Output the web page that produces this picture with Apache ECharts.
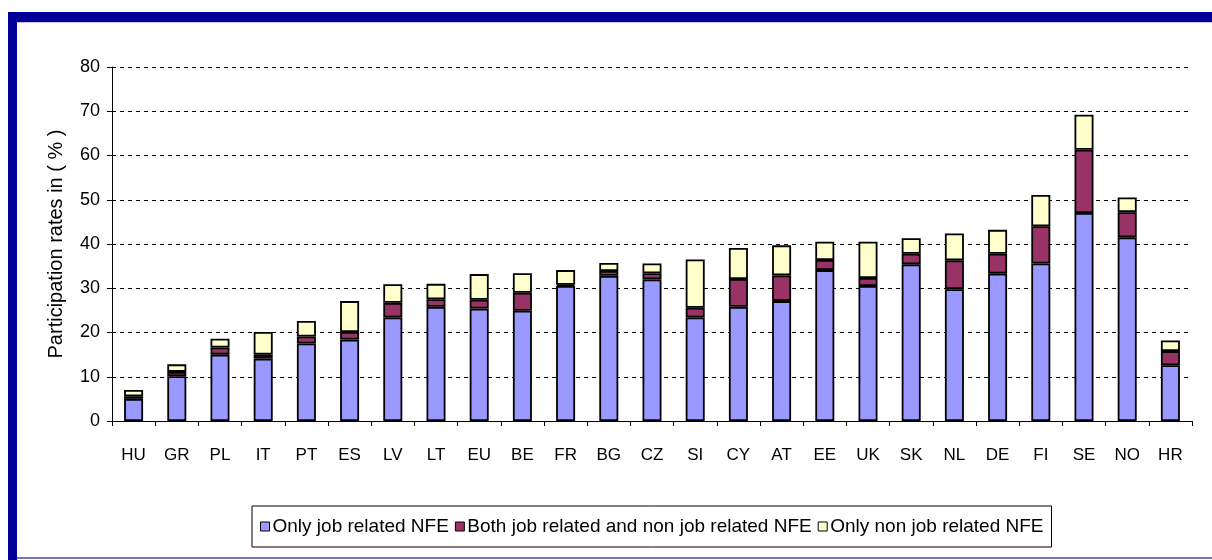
<!DOCTYPE html>
<html>
<head>
<meta charset="utf-8">
<script src="https://cdn.jsdelivr.net/npm/echarts@6/dist/echarts.min.js"></script>
<style>
html,body{margin:0;padding:0;background:#fff;}
#chart{width:1212px;height:560px;}
</style>
</head>
<body>
<div id="chart"></div>
<script>
const categories = ['HU','GR','PL','IT','PT','ES','LV','LT','EU','BE','FR','BG','CZ','SI','CY','AT','EE','UK','SK','NL','DE','FI','SE','NO','HR'];
const onlyJob =    [5.0, 10.1, 15.0, 14.1, 17.5, 18.4, 23.4, 25.8, 25.4, 24.9, 30.5, 32.8, 32.0, 23.4, 25.8, 27.1, 34.1, 30.5, 35.4, 29.8, 33.3, 35.6, 47.0, 41.5, 12.6];
const bothJob =    [0.6, 1.0, 1.6, 0.9, 1.6, 1.7, 3.3, 1.7, 2.0, 4.1, 0.3, 1.1, 1.4, 2.2, 6.3, 5.8, 2.3, 1.8, 2.4, 6.5, 4.5, 8.4, 14.3, 5.7, 3.2];
const onlyNonJob = [1.4, 1.7, 2.0, 5.1, 3.5, 7.0, 4.2, 3.5, 5.8, 4.4, 3.3, 1.8, 2.2, 10.9, 7.0, 6.8, 4.1, 8.2, 3.5, 6.1, 5.4, 7.1, 7.9, 3.3, 2.4];
const seriesNames = ['Only job related NFE', 'Both job related and non job related NFE', 'Only non job related NFE'];
const seriesColors = ['#9999FF', '#993366', '#FFFFCC'];
const yTicks = [0, 10, 20, 30, 40, 50, 60, 70, 80];

const chart = echarts.init(document.getElementById('chart'), null, {renderer: 'canvas'});
const font = 'Liberation Sans, Arial, sans-serif';
const dataSets = [onlyJob, bothJob, onlyNonJob];
const series = dataSets.map((d, i) => ({
  name: seriesNames[i],
  type: 'bar',
  stack: 'total',
  data: d,
  barWidth: 19,
  itemStyle: {color: seriesColors[i], borderColor: '#000', borderWidth: 1.8},
  emphasis: {disabled: true}
}));

chart.setOption({
  animation: false,
  backgroundColor: '#fff',
  grid: {left: 112, right: 20, top: 67, bottom: 139, containLabel: false},
  xAxis: {
    type: 'category',
    data: categories,
    axisLine: {lineStyle: {color: '#000', width: 1}},
    axisTick: {show: true, length: 5, lineStyle: {color: '#000'}},
    axisLabel: {color: '#000', fontSize: 17, fontFamily: font, margin: 26}
  },
  yAxis: {
    type: 'value',
    min: yTicks[0], max: yTicks[yTicks.length - 1], interval: 10,
    name: 'Participation rates in ( % )',
    nameLocation: 'middle',
    nameGap: 46,
    nameRotate: 90,
    nameTextStyle: {color: '#000', fontSize: 20, fontFamily: font},
    axisLine: {show: true, lineStyle: {color: '#000', width: 1}},
    axisTick: {show: true, length: 5, lineStyle: {color: '#000'}},
    axisLabel: {color: '#000', fontSize: 18, fontFamily: font, margin: 12},
    splitLine: {show: true, lineStyle: {color: '#000', type: [4, 4], width: 1}}
  },
  legend: {
    left: 252, top: 506,
    padding: [11, 8, 11, 8],
    borderColor: '#000', borderWidth: 1,
    itemWidth: 9, itemHeight: 9, itemGap: 6,
    icon: 'rect',
    textStyle: {color: '#000', fontSize: 19, fontFamily: font, padding: [0, 0, 0, -2]},
    itemStyle: {borderColor: '#000', borderWidth: 1},
    data: seriesNames
  },
  graphic: [
    {type: 'rect', shape: {x: 8, y: 12, width: 1204, height: 10}, style: {fill: '#000099'}, silent: true},
    {type: 'rect', shape: {x: 8, y: 12, width: 9, height: 548}, style: {fill: '#000099'}, silent: true},
    {type: 'rect', shape: {x: 17, y: 22, width: 1195, height: 1}, style: {fill: '#c8c8e0'}, silent: true},
    {type: 'rect', shape: {x: 17, y: 557, width: 1195, height: 2}, style: {fill: '#7777bb'}, silent: true}
  ],
  series: series
});
</script>
</body>
</html>
